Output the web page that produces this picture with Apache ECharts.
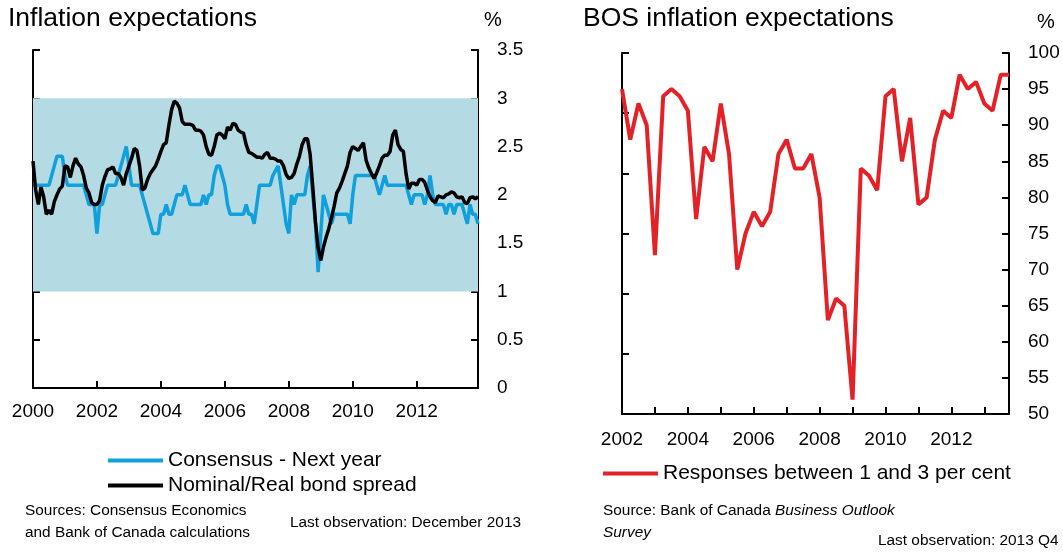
<!DOCTYPE html>
<html>
<head>
<meta charset="utf-8">
<script src="https://cdn.jsdelivr.net/npm/echarts@6/dist/echarts.min.js"></script>
<style>
  html, body { margin: 0; padding: 0; background: #fff; }
  #chart { width: 1063px; height: 552px; }
</style>
</head>
<body>
<div id="chart"></div>
<script>
(function () {
    let font = 'Liberation Sans, Arial, sans-serif'

    // monthly, Jan 2000 - Dec 2013
    let months = []
    for (let y = 2000; y <= 2013; y++) {
        for (let m = 1; m <= 12; m++) {
            months.push(y + '-' + (m < 10 ? '0' + m : m))
        }
    }

    let consensus = [
        2.1, 2.1, 2.1, 2.1, 2.1, 2.1, 2.1, 2.2, 2.3, 2.4, 2.4, 2.4,
        2.2, 2.1, 2.1, 2.1, 2.1, 2.1, 2.1, 2.1, 2.0, 1.9, 1.9, 1.9,
        1.6, 1.9, 1.9, 2.0, 2.1, 2.1, 2.1, 2.1, 2.2, 2.3, 2.4, 2.5,
        2.3, 2.1, 2.1, 2.1, 2.1, 2.0, 1.9, 1.8, 1.7, 1.6, 1.6, 1.6,
        1.8, 1.8, 1.9, 1.8, 1.8, 1.9, 2.0, 2.0, 2.0, 2.1, 2.0, 1.9,
        1.9, 1.9, 1.9, 1.9, 2.0, 1.9, 2.0, 2.0, 2.2, 2.3, 2.3, 2.2,
        2.1, 1.9, 1.8, 1.8, 1.8, 1.8, 1.8, 1.8, 1.9, 1.8, 1.8, 1.7,
        1.9, 2.1, 2.1, 2.1, 2.1, 2.1, 2.2, 2.25, 2.3, 2.1, 1.9, 1.7,
        1.6, 2.0, 1.9, 2.0, 2.0, 2.0, 2.0, 2.2, 2.3, 2.0, 1.7, 1.2,
        1.6, 2.0, 1.9, 1.8, 1.7, 1.8, 1.8, 1.8, 1.8, 1.8, 1.8, 1.7,
        2.0, 2.2, 2.2, 2.2, 2.2, 2.2, 2.2, 2.2, 2.2, 2.1, 2.0, 2.1,
        2.2, 2.1, 2.1, 2.1, 2.1, 2.1, 2.1, 2.1, 2.1, 2.0, 1.9, 2.0,
        2.0, 2.0, 2.0, 1.9, 2.0, 2.2, 2.0, 1.9, 1.9, 1.9, 1.9, 1.8,
        1.9, 1.9, 1.8, 1.9, 1.9, 1.9, 1.8, 1.7, 1.9, 1.8, 1.8, 1.7
    ]

    let bondSpread = [
        2.35, 2.05, 1.90, 2.08, 1.98, 1.80, 1.84, 1.80, 1.93, 2.00, 2.06, 2.09,
        2.30, 2.29, 2.18, 2.30, 2.38, 2.32, 2.29, 2.20, 2.07, 2.02, 1.92, 1.90,
        1.90, 1.94, 2.10, 2.19, 2.26, 2.27, 2.29, 2.22, 2.22, 2.18, 2.10, 2.22,
        2.30, 2.38, 2.48, 2.46, 2.30, 2.05, 2.07, 2.16, 2.22, 2.26, 2.30, 2.37,
        2.45, 2.52, 2.54, 2.72, 2.88, 2.97, 2.95, 2.90, 2.76, 2.73, 2.73, 2.73,
        2.72, 2.67, 2.67, 2.66, 2.62, 2.50, 2.42, 2.41, 2.50, 2.62, 2.64, 2.62,
        2.58, 2.70, 2.67, 2.74, 2.73, 2.67, 2.65, 2.64, 2.52, 2.44, 2.43, 2.41,
        2.39, 2.39, 2.38, 2.42, 2.44, 2.38, 2.38, 2.37, 2.35, 2.35, 2.30, 2.21,
        2.17, 2.18, 2.22, 2.32, 2.40, 2.52, 2.58, 2.58, 2.42, 2.08, 1.72, 1.45,
        1.32, 1.46, 1.56, 1.65, 1.76, 1.88, 2.02, 2.07, 2.14, 2.22, 2.30, 2.44,
        2.50, 2.48, 2.46, 2.50, 2.54, 2.36, 2.28, 2.22, 2.17, 2.23, 2.30, 2.38,
        2.41, 2.41, 2.45, 2.62, 2.67, 2.52, 2.47, 2.45, 2.22, 2.06, 2.12, 2.12,
        2.10, 2.16, 2.16, 2.13, 2.05, 1.98, 1.94, 1.92, 1.99, 1.98, 1.97, 2.00,
        2.01, 2.03, 2.02, 1.98, 1.97, 1.98, 1.92, 1.91, 1.97, 1.98, 1.96, 1.98
    ]

    // quarterly, 2002Q1 - 2013Q4
    let quarters = []
    for (let y = 2002; y <= 2013; y++) {
        for (let q = 1; q <= 4; q++) quarters.push(y + 'Q' + q)
    }

    let bosResponses = [
        95, 88, 93, 90,
        72, 94, 95, 94,
        92, 77, 87, 85,
        93, 86, 70, 75,
        78, 76, 78, 86,
        88, 84, 84, 86,
        80, 63, 66, 65,
        52, 84, 83, 81,
        94, 95, 85, 91,
        79, 80, 88, 92,
        91, 97, 95, 96,
        93, 92, 97, 97
    ]

    let leftTicks = [0, 3.5, 0.5]   // min, max, interval
    let rightTicks = [50, 100, 5]

    let chart = echarts.init(document.getElementById('chart'))

    let axisLine = { show: true, lineStyle: { color: '#000', width: 2 } }
    let tickIn = { show: true, inside: true, length: 7, lineStyle: { color: '#000', width: 2 } }
    let labelStyle = { color: '#000', fontSize: 19, fontFamily: font }
    let legendText = { fontSize: 21, color: '#000', fontFamily: font }

    let option = {
        backgroundColor: '#fff',
        animation: false,
        textStyle: { fontFamily: font },
        grid: [
            { left: 33, right: 585, top: 50, bottom: 164 },
            { left: 622, right: 54, top: 53, bottom: 138 }
        ],
        xAxis: [
            {
                type: 'category', gridIndex: 0, data: months, boundaryGap: false,
                axisLine: axisLine,
                axisTick: Object.assign({}, tickIn, { interval: (i) => i % 24 === 0 }),
                axisLabel: Object.assign({}, labelStyle, {
                    margin: 14,
                    interval: (i) => i % 24 === 0,
                    formatter: (v) => v.slice(0, 4)
                }),
                splitLine: { show: false }
            },
            {
                type: 'category', gridIndex: 1, data: quarters, boundaryGap: false,
                axisLine: axisLine,
                axisTick: Object.assign({}, tickIn, { interval: (i) => i % 4 === 0 }),
                axisLabel: Object.assign({}, labelStyle, {
                    margin: 16,
                    interval: (i) => i % 8 === 0,
                    formatter: (v) => v.slice(0, 4)
                }),
                splitLine: { show: false }
            }
        ],
        yAxis: [
            {
                type: 'value', gridIndex: 0, position: 'right',
                min: leftTicks[0], max: leftTicks[1], interval: leftTicks[2],
                axisLine: axisLine, axisTick: tickIn,
                axisLabel: Object.assign({}, labelStyle, { margin: 19, align: 'left' }),
                splitLine: { show: false }
            },
            {
                type: 'value', gridIndex: 0, position: 'left',
                min: leftTicks[0], max: leftTicks[1], interval: leftTicks[2],
                axisLine: axisLine, axisTick: tickIn,
                axisLabel: { show: false }, splitLine: { show: false }
            },
            {
                type: 'value', gridIndex: 1, position: 'right',
                min: rightTicks[0], max: rightTicks[1], interval: rightTicks[2],
                axisLine: axisLine, axisTick: tickIn,
                axisLabel: Object.assign({}, labelStyle, { margin: 19, align: 'left' }),
                splitLine: { show: false }
            },
            {
                // left edge of the BOS panel carries its own 6 ticks, no labels
                type: 'value', gridIndex: 1, position: 'left',
                min: 0, max: 6, interval: 1,
                axisLine: axisLine, axisTick: tickIn,
                axisLabel: { show: false }, splitLine: { show: false }
            }
        ],
        legend: [
            {
                data: ['Consensus - Next year', 'Nominal/Real bond spread'],
                orient: 'vertical', left: 108, top: 450, padding: 0,
                icon: 'rect', itemWidth: 55, itemHeight: 4, itemGap: 4,
                textStyle: legendText
            },
            {
                data: ['Responses between 1 and 3 per cent'],
                left: 603, top: 463, padding: 0,
                icon: 'rect', itemWidth: 55, itemHeight: 4,
                textStyle: legendText
            }
        ],
        series: [
            {
                name: 'band', type: 'line', xAxisIndex: 0, yAxisIndex: 0,
                data: [], z: 1, silent: true,
                markArea: {
                    silent: true,
                    itemStyle: { color: '#b4dbe4' },
                    data: [[{ yAxis: 1 }, { yAxis: 3 }]]
                }
            },
            {
                name: 'Consensus - Next year', type: 'line',
                xAxisIndex: 0, yAxisIndex: 0, data: consensus,
                symbol: 'none', z: 3,
                lineStyle: { color: '#0fa0dd', width: 3.5 },
                itemStyle: { color: '#0fa0dd' }
            },
            {
                name: 'Nominal/Real bond spread', type: 'line',
                xAxisIndex: 0, yAxisIndex: 0, data: bondSpread,
                symbol: 'none', z: 4,
                lineStyle: { color: '#000', width: 3.5 },
                itemStyle: { color: '#000' }
            },
            {
                name: 'Responses between 1 and 3 per cent', type: 'line',
                xAxisIndex: 1, yAxisIndex: 2, data: bosResponses,
                symbol: 'none', z: 3,
                lineStyle: { color: '#e32227', width: 4 },
                itemStyle: { color: '#e32227' }
            }
        ],
        graphic: [
            { type: 'text', left: 8, top: 5, style: { text: 'Inflation expectations', fontSize: 26.5, fontFamily: font, fill: '#000' } },
            { type: 'text', left: 484, top: 10, style: { text: '%', fontSize: 20, fontFamily: font, fill: '#000' } },
            { type: 'text', left: 583, top: 5, style: { text: 'BOS inflation expectations', fontSize: 26.5, fontFamily: font, fill: '#000' } },
            { type: 'text', left: 1037, top: 12, style: { text: '%', fontSize: 20, fontFamily: font, fill: '#000' } },
            { type: 'text', left: 25, top: 500, style: { text: 'Sources: Consensus Economics\nand Bank of Canada calculations', fontSize: 15.4, lineHeight: 22, fontFamily: font, fill: '#000' } },
            { type: 'text', left: 290, top: 515, style: { text: 'Last observation: December 2013', fontSize: 15.4, fontFamily: font, fill: '#000' } },
            {
                type: 'text', left: 603, top: 500,
                style: {
                    text: 'Source: Bank of Canada {i|Business Outlook}\n{i|Survey}',
                    fontSize: 15.4, lineHeight: 22, fontFamily: font, fill: '#000',
                    rich: { i: { fontStyle: 'italic', fontSize: 15.4, lineHeight: 22, fontFamily: font } }
                }
            },
            { type: 'text', left: 878, top: 533, style: { text: 'Last observation: 2013 Q4', fontSize: 15.4, fontFamily: font, fill: '#000' } }
        ]
    }

    chart.setOption(option)
    window.addEventListener('resize', function () {
        chart.resize()
    })
})();
</script>
</body>
</html>
